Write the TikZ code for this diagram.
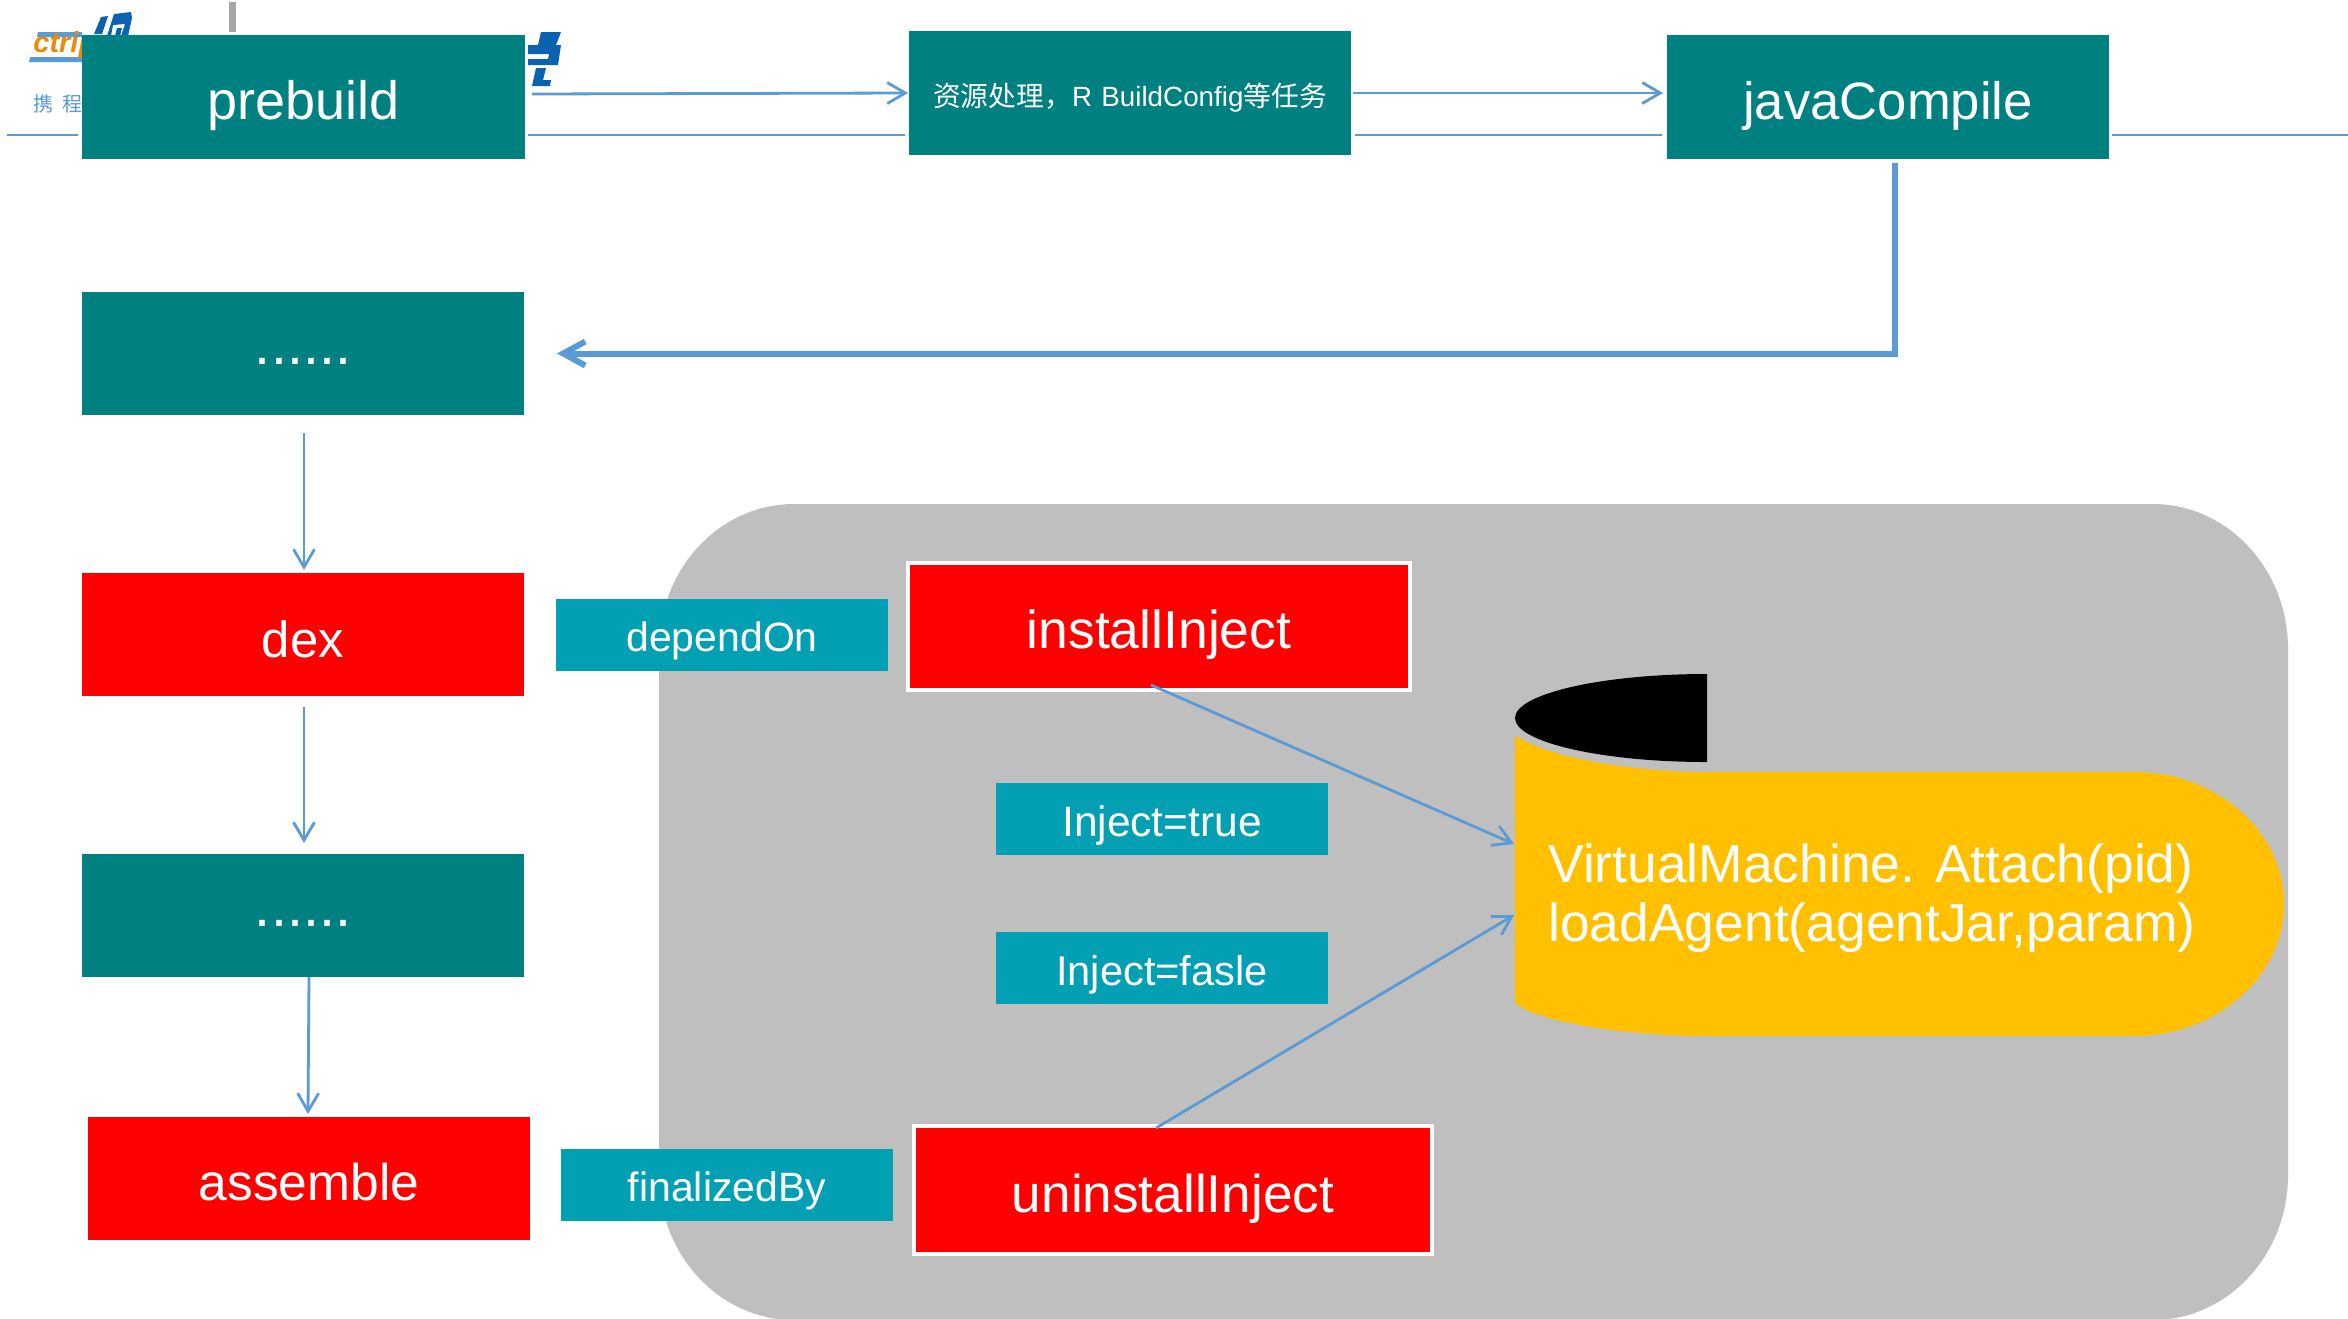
\documentclass[tikz,border=0pt]{standalone}
\usepackage{fontspec}
\setmainfont{Liberation Sans}
\newfontfamily\cjkfont{Noto Sans CJK SC}
\usetikzlibrary{arrows.meta}
\definecolor{tealbg}{HTML}{008080}
\definecolor{redbg}{HTML}{FF0000}
\definecolor{labelbg}{HTML}{039FB3}
\definecolor{linkblue}{HTML}{5B9BD5}
\definecolor{panelgray}{HTML}{BFBFBF}
\definecolor{scrollyellow}{HTML}{FFC000}
\definecolor{logoblue}{HTML}{0B62AE}
\definecolor{logoorange}{HTML}{E98A0C}
\definecolor{logogray}{HTML}{A6A6A6}
\tikzset{
  x=0.5pt,y=-0.5pt,
  flatbox/.style n args={4}{rectangle,inner sep=0pt,outer sep=0pt,text=white,
    minimum width=#1pt,text width=#1pt,align=center,text height=#2pt,text depth=#3pt,
    font=\fontsize{#4}{#4}\selectfont},
  tealbox/.style n args={4}{flatbox={#1}{#2}{#3}{#4},fill=tealbg},
  redbox/.style n args={4}{flatbox={#1}{#2}{#3}{#4},fill=redbg},
  redframe/.style n args={4}{flatbox={#1}{#2}{#3}{#4},fill=redbg,draw=white,line width=2pt},
  labelbox/.style n args={4}{flatbox={#1}{#2}{#3}{#4},fill=labelbg},
  thinlink/.style={draw=linkblue,line width=1.4pt,-{Straight Barb[length=9pt,width=10.5pt,line width=1.4pt]}},
  thicklink/.style={draw=linkblue,line width=3pt,-{Straight Barb[length=11pt,width=12pt,line width=3pt]}},
  rule/.style={draw=linkblue,line width=1pt},
}
\begin{document}
\begin{tikzpicture}
\useasboundingbox (0,0) rectangle (2348,1318);
\fill[white] (0,0) rectangle (2348,1318);

% logo remnants behind the first box
\fill[logogray] (229,2) rectangle (236,32);
\fill[linkblue] (38,32) -- (82,32) -- (82,37) -- (37,37) -- cycle;
\fill[linkblue] (30,57) -- (82,57) -- (82,62) -- (29,62) -- cycle;
\node[inner sep=0pt,anchor=base west,text=logoorange,font=\fontsize{14.5}{15}\selectfont\bfseries\itshape] (ctrip) at (33,52) {ctrip};
\node[inner sep=0pt,anchor=base west,text=linkblue,font=\fontsize{10}{10}\selectfont\cjkfont] (xiecheng) at (33,111) {携\hspace{4.5pt}程};
\fill[logoblue] (94,34) -- (101,17) -- (108,16) -- (102,34) -- cycle;
\fill[logoblue] (107,36) -- (114,14) -- (131,12) -- (132,18) -- (128,36) -- (121,36) -- (125,24) -- (113,25) -- (111,36) -- cycle;
\fill[logoblue] (115,36) -- (117,28) -- (122,28) -- (120,36) -- cycle;
\fill[logoblue] (541,32) -- (561,32) -- (556,45) -- (538,45) -- cycle;
\fill[logoblue] (528,45) -- (561,45) -- (558,65) -- (528,65) -- (528,59) -- (548,59) -- (549,54) -- (528,54) -- cycle;
\fill[logoblue] (536,68) -- (546,68) -- (543,80) -- (551,80) -- (550,86) -- (532,86) -- cycle;

% rule of the slide
\draw[rule] (7,135) -- (78,135);
\draw[rule] (528,135) -- (905,135);
\draw[rule] (1355,135) -- (1662,135);
\draw[rule] (2112,135) -- (2348,135);

% gray panel
\begin{scope}
\clip (0,0) rectangle (2348,1318);
\fill[panelgray] (659,649) .. controls (659,569) and (719.5,504) .. (794,504)
  -- (2153,504) .. controls (2227.5,504) and (2288,569) .. (2288,649)
  -- (2288,1175) .. controls (2288,1255) and (2227.5,1320) .. (2153,1320)
  -- (794,1320) .. controls (719.5,1320) and (659,1255) .. (659,1175) -- cycle;
\end{scope}

% scroll
\fill[black] (1707,674) .. controls (1601,674) and (1515,694) .. (1515,718)
  .. controls (1515,742) and (1601,762) .. (1707,762) -- cycle;
\fill[scrollyellow] (1515,735) .. controls (1545,757) and (1630,772) .. (1707,772)
  -- (2134,772) .. controls (2216,772) and (2284,831) .. (2284,904)
  .. controls (2284,977) and (2216,1036) .. (2134,1036)
  -- (1707,1036) .. controls (1620,1036) and (1530,1020) .. (1515,1002) -- cycle;
\node[inner sep=0pt,anchor=west,align=left,text=white,font=\fontsize{26.7}{29.5}\selectfont] (vmtext) at (1548,898.5)
  {VirtualMachine. Attach(pid)\\loadAgent(agentJar,param)};
\coordinate (vmin) at (1514,844);
\coordinate (vmout) at (1514,915);

% boxes
\node[tealbox={221.5}{42}{20}{27}] (prebuild) at (303.5,97) {prebuild};
\node[tealbox={221}{37.5}{24.5}{13.9}] (resproc) at (1130,93) {{\cjkfont 资源处理，}R BuildConfig{\cjkfont 等任务}};
\node[tealbox={221}{42}{20}{26.3}] (javac) at (1888,97) {javaCompile};
\node[tealbox={221}{36}{25.5}{28.8}] (dotsa) at (303,353.5) {......};
\node[redbox={221}{42}{19.5}{25.5}] (dex) at (303,634.5) {dex};
\node[tealbox={221}{36}{25.5}{28.8}] (dotsb) at (303,915.5) {......};
\node[redbox={221}{41.5}{20}{25.8}] (assemble) at (309,1178.5) {assemble};
\node[labelbox={166}{26}{10}{20.5}] (depend) at (722,635) {dependOn};
\node[redframe={251}{42.5}{21}{26.75}] (install) at (1159,626.5) {installInject};
\node[labelbox={166}{26.5}{9.5}{21.25}] (injtrue) at (1162,819) {Inject=true};
\node[labelbox={166}{26.5}{9.5}{20.8}] (injfalse) at (1162,968) {Inject=fasle};
\node[labelbox={166}{26}{10}{20.5}] (final) at (727,1185) {finalizedBy};
\node[redframe={259}{43}{21}{26.6}] (uninstall) at (1173,1190) {uninstallInject};

% connectors
\draw[thinlink] ([shift={(7,-3)}]prebuild.east) -- ([shift={(-1,0)}]resproc.west);
\draw[thinlink] ([shift={(2,0)}]resproc.east) -- ([shift={(-4,-4)}]javac.west);
\draw[thicklink] ([shift={(7,4)}]javac.south) |- ([shift={(33,0)}]dotsa.east);
\draw[thinlink] ([shift={(1,18)}]dotsa.south) -- ([shift={(1,-3)}]dex.north);
\draw[thinlink] ([shift={(1,11)}]dex.south) -- ([shift={(1,-11)}]dotsb.north);
\draw[thinlink] ([shift={(6,0)}]dotsb.south) -- ([shift={(-1,-3)}]assemble.north);
\draw[thinlink] ([shift={(-8,-5)}]install.south) -- (vmin);
\draw[thinlink] ([shift={(-17,2)}]uninstall.north) -- (vmout);
\end{tikzpicture}
\end{document}
